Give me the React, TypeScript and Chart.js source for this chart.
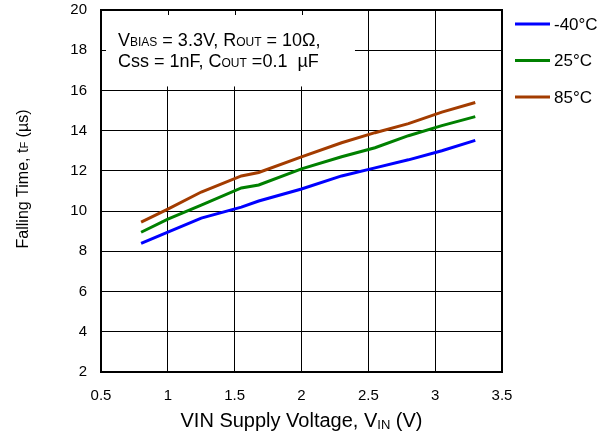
import React, { useEffect, useRef } from 'react';
import { Chart, registerables } from 'chart.js';

Chart.register(...registerables);

const vinValues = [0.8, 1.0, 1.25, 1.55, 1.68, 2.0, 2.3, 2.55, 2.8, 3.05, 3.3];
const tempM40 = [8.4, 8.95, 9.65, 10.2, 10.5, 11.1, 11.75, 12.15, 12.55, 13.0, 13.52];
const temp25 = [8.95, 9.6, 10.3, 11.15, 11.3, 12.1, 12.7, 13.15, 13.75, 14.25, 14.7];
const temp85 = [9.45, 10.1, 10.95, 11.75, 11.92, 12.7, 13.4, 13.9, 14.35, 14.92, 15.4];
const seriesLabels = ['-40°C', '25°C', '85°C'];
const seriesColors = ['#0000ff', '#008000', '#a33c00'];

const FONT = '"Liberation Sans", Arial, Helvetica, sans-serif';

type Part = { text: string; size: number; dy?: number };

function drawRich(ctx: CanvasRenderingContext2D, parts: Part[], x: number, y: number, align: 'left' | 'center') {
  const widths = parts.map((p) => {
    ctx.font = `${p.size}px ${FONT}`;
    return ctx.measureText(p.text).width;
  });
  const total = widths.reduce((a, b) => a + b, 0);
  let cx = align === 'center' ? x - total / 2 : x;
  ctx.textAlign = 'left';
  ctx.textBaseline = 'alphabetic';
  ctx.fillStyle = '#000';
  parts.forEach((p, i) => {
    ctx.font = `${p.size}px ${FONT}`;
    ctx.fillText(p.text, cx, y + (p.dy || 0));
    cx += widths[i];
  });
}

const decorPlugin = {
  id: 'decor',
  beforeDatasetsDraw(chart: any) {
    const ctx: CanvasRenderingContext2D = chart.ctx;
    const { left, top } = chart.chartArea;
    const xs = chart.scales.x;
    const ys = chart.scales.y;
    const boxRight = xs.getPixelForValue(2.4);
    const boxBottom = ys.getPixelForValue(16) - 4;
    ctx.save();
    ctx.fillStyle = '#fff';
    ctx.fillRect(left + 1, top + 1, boxRight - left - 1, boxBottom - top - 1);
    ctx.strokeStyle = '#000';
    ctx.lineWidth = 1;
    ctx.beginPath();
    [1, 1.5, 2].forEach((v) => {
      const px = Math.round(xs.getPixelForValue(v)) + 0.5;
      ctx.moveTo(px, top);
      ctx.lineTo(px, top + 5);
    });
    const py = Math.round(ys.getPixelForValue(18)) + 0.5;
    ctx.moveTo(left, py);
    ctx.lineTo(left + 5, py);
    ctx.stroke();
    drawRich(ctx, [
      { text: 'V', size: 18 },
      { text: 'BIAS', size: 12 },
      { text: ' = 3.3V, R', size: 18 },
      { text: 'OUT', size: 12 },
      { text: ' = 10Ω,', size: 18 },
    ], 118, 46, 'left');
    drawRich(ctx, [
      { text: 'Css = 1nF, C', size: 18 },
      { text: 'OUT', size: 12 },
      { text: ' =0.1  µF', size: 18 },
    ], 118, 67, 'left');
    ctx.restore();
  },
  afterDraw(chart: any) {
    const ctx: CanvasRenderingContext2D = chart.ctx;
    const { left, top, right, bottom } = chart.chartArea;
    ctx.save();
    ctx.strokeStyle = '#000';
    ctx.lineWidth = 2;
    ctx.strokeRect(left, top, right - left, bottom - top);

    // legend
    const ly = [24, 60.5, 97];
    seriesLabels.forEach((lab, i) => {
      ctx.strokeStyle = seriesColors[i];
      ctx.lineWidth = 3;
      ctx.beginPath();
      ctx.moveTo(515, ly[i]);
      ctx.lineTo(550, ly[i]);
      ctx.stroke();
      ctx.fillStyle = '#000';
      ctx.font = `17px ${FONT}`;
      ctx.textAlign = 'left';
      ctx.textBaseline = 'middle';
      ctx.fillText(lab, 554, ly[i] + 1);
    });

    // x title
    drawRich(ctx, [
      { text: 'VIN Supply Voltage, V', size: 20 },
      { text: 'IN', size: 13, dy: 2 },
      { text: ' (V)', size: 20 },
    ], (left + right) / 2, 427, 'center');

    // y title
    ctx.save();
    ctx.translate(28, 179);
    ctx.rotate(-Math.PI / 2);
    drawRich(ctx, [
      { text: 'Falling Time, t', size: 16 },
      { text: 'F', size: 11 },
      { text: ' (µs)', size: 16 },
    ], 0, 0, 'center');
    ctx.restore();
    ctx.restore();
  },
};

export default function App() {
  const ref = useRef<HTMLCanvasElement | null>(null);
  useEffect(() => {
    document.body.style.margin = '0';
    const canvas = ref.current;
    if (!canvas) return;
    const series = [tempM40, temp25, temp85];
    const chart = new Chart(canvas, {
      type: 'line',
      data: {
        datasets: series.map((vals, i) => ({
          label: seriesLabels[i],
          data: vinValues.map((x, j) => ({ x, y: vals[j] })),
          borderColor: seriesColors[i],
          backgroundColor: seriesColors[i],
          borderWidth: 3,
          pointRadius: 0,
          tension: 0,
          fill: false,
        })),
      },
      options: {
        responsive: false,
        animation: false,
        devicePixelRatio: 1,
        layout: { padding: { left: 0, right: 109, top: 10, bottom: 0 } },
        plugins: { legend: { display: false }, tooltip: { enabled: false }, title: { display: false } },
        scales: {
          x: {
            type: 'linear',
            min: 0.5,
            max: 3.5,
            ticks: {
              stepSize: 0.5,
              color: '#000',
              font: { family: FONT, size: 15 },
              padding: 15,
              maxRotation: 0,
              callback: (v: any) => String(Number(v)),
            },
            grid: { color: '#000', lineWidth: 1, drawTicks: false },
            border: { display: false },
            afterFit: (s: any) => { s.height = 62; s.paddingLeft = 0; s.paddingRight = 0; },
          },
          y: {
            min: 2,
            max: 20,
            ticks: { stepSize: 2, color: '#000', font: { family: FONT, size: 15 }, padding: 14 },
            grid: { color: '#000', lineWidth: 1, drawTicks: false },
            border: { display: false },
            afterFit: (s: any) => { s.width = 101; s.paddingTop = 0; s.paddingBottom = 0; },
          },
        },
      },
      plugins: [decorPlugin],
    });
    return () => chart.destroy();
  }, []);
  return <canvas ref={ref} width={611} height={434} style={{ display: 'block' }} />;
}
